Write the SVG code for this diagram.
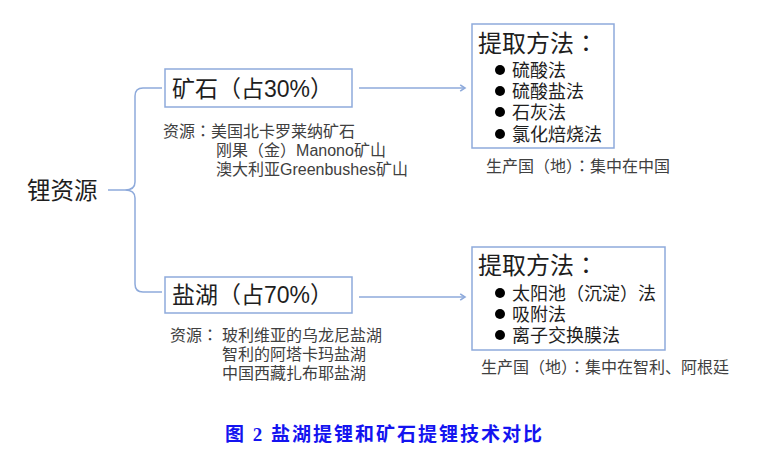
<svg xmlns="http://www.w3.org/2000/svg" width="772" height="464" viewBox="0 0 772 464">
<defs>
<style>
.box{fill:#fff;stroke:#8eaadb;stroke-width:1.5}
.con{fill:none;stroke:#8eaadb;stroke-width:1.5}
.t{font-family:"Liberation Sans","Noto Sans CJK SC",sans-serif;fill:#1e1e1e}
.p{font-family:"Liberation Sans","Noto Sans CJK TC","Noto Sans CJK SC",sans-serif}
.big{font-size:23px}
.head{font-size:24px}
.item{font-size:18px}
.src{font-size:16px;fill:#404040}
.cap{font-family:"Liberation Serif","Noto Sans CJK SC",serif;font-size:19px;font-weight:bold;fill:#1414f0;letter-spacing:2px}
</style>
<marker id="arr" viewBox="0 0 10 10" refX="8" refY="5" markerWidth="8" markerHeight="8" markerUnits="userSpaceOnUse" orient="auto">
<path d="M2,1 L8,5 L2,9" fill="none" stroke="#8eaadb" stroke-width="2"/>
</marker>
</defs>
<rect width="772" height="464" fill="#fff"/>
<g id="connectors">
<path class="con" d="M162,88 L143,88 Q135,88 135,96 L135,182 Q135,190 125,190 L108,190 M125,190 Q135,190 135,198 L135,284 Q135,292 143,292 L162,292"/>
<line class="con" x1="359" y1="88" x2="465" y2="88" marker-end="url(#arr)"/>
<line class="con" x1="359" y1="297" x2="465" y2="297" marker-end="url(#arr)"/>
</g>
<g id="root">
<text class="t" x="27" y="199" style="font-size:23.5px">锂资源</text>
</g>
<g id="ore">
<rect class="box" x="165" y="69" width="187" height="38"/>
<text class="t big" x="172" y="97">矿石<tspan class="p">（</tspan>占30%<tspan class="p">）</tspan></text>
<text class="t src"><tspan x="163" y="137">资源<tspan class="p">：</tspan>美国北卡罗莱纳矿石</tspan><tspan x="216" y="156">刚果<tspan class="p">（</tspan>金<tspan class="p">）</tspan>Manono矿山</tspan><tspan x="216" y="175">澳大利亚Greenbushes矿山</tspan></text>
</g>
<g id="salt">
<rect class="box" x="165" y="277" width="187" height="36"/>
<text class="t big" x="172" y="303">盐湖<tspan class="p">（</tspan>占70%<tspan class="p">）</tspan></text>
<text class="t src"><tspan x="170" y="341">资源<tspan class="p">：</tspan></tspan><tspan x="222" y="341">玻利维亚的乌龙尼盐湖</tspan><tspan x="222" y="360">智利的阿塔卡玛盐湖</tspan><tspan x="222" y="379">中国西藏扎布耶盐湖</tspan></text>
</g>
<g id="ore-methods">
<rect class="box" x="472" y="24" width="142" height="124"/>
<text class="t head" x="478" y="52">提取方法<tspan class="p">：</tspan></text>
<circle cx="500" cy="70" r="5" fill="#000"/>
<circle cx="500" cy="91" r="5" fill="#000"/>
<circle cx="500" cy="112" r="5" fill="#000"/>
<circle cx="500" cy="134" r="5" fill="#000"/>
<text class="t item"><tspan x="512" y="77">硫酸法</tspan><tspan x="512" y="98">硫酸盐法</tspan><tspan x="512" y="119">石灰法</tspan><tspan x="512" y="141">氯化焙烧法</tspan></text>
<text class="t src" x="486" y="172">生产国<tspan class="p">（</tspan>地<tspan class="p">）：</tspan>集中在中国</text>
</g>
<g id="salt-methods">
<rect class="box" x="472" y="247" width="193" height="103"/>
<text class="t head" x="478" y="274">提取方法<tspan class="p">：</tspan></text>
<circle cx="500" cy="293" r="5" fill="#000"/>
<circle cx="500" cy="314" r="5" fill="#000"/>
<circle cx="500" cy="335" r="5" fill="#000"/>
<text class="t item"><tspan x="512" y="300">太阳池<tspan class="p">（</tspan>沉淀<tspan class="p">）</tspan>法</tspan><tspan x="512" y="321">吸附法</tspan><tspan x="512" y="342">离子交换膜法</tspan></text>
<text class="t src" x="481" y="373">生产国<tspan class="p">（</tspan>地<tspan class="p">）：</tspan>集中在智利、阿根廷</text>
</g>
<text class="cap" x="225" y="441">图 2  盐湖提锂和矿石提锂技术对比</text>
</svg>
